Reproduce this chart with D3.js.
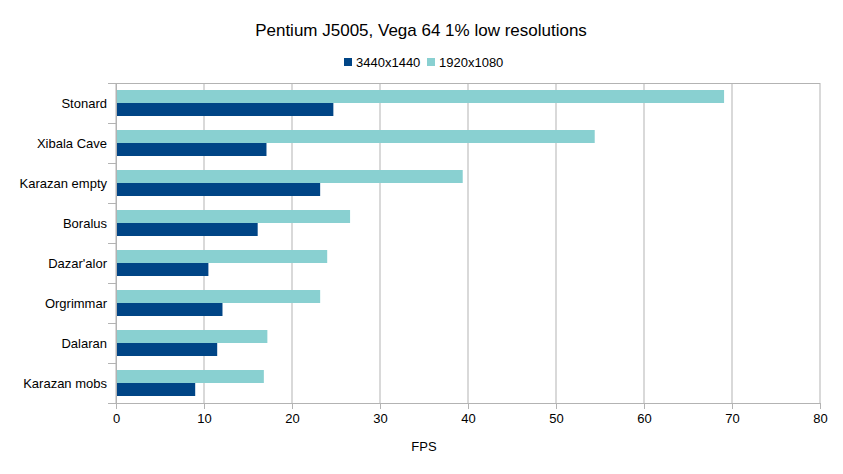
<!DOCTYPE html>
<html lang="en">
<head>
    <meta charset="UTF-8">
    <title>Pentium J5005, Vega 64 1% low resolutions</title>
    <script src="https://cdnjs.cloudflare.com/ajax/libs/d3/7.8.5/d3.min.js"></script>
    <style>
        body {
            margin: 0;
            background: white;
            font-family: 'Liberation Sans', Arial, sans-serif;
        }
        .axis text {
            font-family: 'Liberation Sans', Arial, sans-serif;
            font-size: 13px;
            fill: #000;
        }
        .axis path, .axis line {
            stroke: #b3b3b3;
        }
    </style>
</head>
<body>
    <div id="chart"></div>

    <script>
        // Data
        const categories = ["Stonard", "Xibala Cave", "Karazan empty", "Boralus", "Dazar'alor", "Orgrimmar", "Dalaran", "Karazan mobs"];
        const seriesNames = ["1920x1080", "3440x1440"];
        const fps1080 = [69.1, 54.4, 39.4, 26.6, 24.0, 23.2, 17.2, 16.8];
        const fps1440 = [24.7, 17.1, 23.2, 16.1, 10.5, 12.1, 11.5, 9.0];
        const xTicks = [0, 10, 20, 30, 40, 50, 60, 70, 80];

        const colors = { "1920x1080": "#89d0d1", "3440x1440": "#004586" };
        const legendOrder = ["3440x1440", "1920x1080"];

        const W = 843, H = 474;
        const margin = { top: 83, right: 23, bottom: 71, left: 116 };
        const width = W - margin.left - margin.right;
        const height = H - margin.top - margin.bottom;

        const svg = d3.select("#chart")
            .append("svg")
            .attr("width", W)
            .attr("height", H);

        const g = svg.append("g")
            .attr("transform", `translate(${margin.left},${margin.top})`);

        const x = d3.scaleLinear().domain([0, 80]).range([0, width]);
        const y = d3.scaleBand().domain(categories).range([0, height]).paddingInner(0.35).paddingOuter(0.175);
        const ySub = d3.scaleBand().domain(seriesNames).range([0, y.bandwidth()]);

        // vertical gridlines
        g.selectAll(".grid")
            .data(xTicks)
            .enter()
            .append("line")
            .attr("class", "grid")
            .attr("x1", d => x(d))
            .attr("x2", d => x(d))
            .attr("y1", 0)
            .attr("y2", height)
            .attr("stroke", "#b3b3b3")
            .attr("stroke-width", 1);

        // top border line
        g.append("line")
            .attr("x1", -8).attr("x2", width)
            .attr("y1", 0.5).attr("y2", 0.5)
            .attr("stroke", "#b3b3b3");

        // bars
        const rows = categories.map((c, i) => ({ cat: c, values: [
            { name: "1920x1080", v: fps1080[i] },
            { name: "3440x1440", v: fps1440[i] }
        ]}));

        const groups = g.selectAll(".row")
            .data(rows)
            .enter()
            .append("g")
            .attr("transform", d => `translate(0,${y(d.cat)})`);

        groups.selectAll("rect")
            .data(d => d.values)
            .enter()
            .append("rect")
            .attr("x", x(0))
            .attr("y", d => ySub(d.name))
            .attr("width", d => x(d.v) - x(0))
            .attr("height", ySub.bandwidth())
            .attr("fill", d => colors[d.name]);

        // y axis with ticks at band boundaries
        const yAxis = g.append("g").attr("class", "axis");
        yAxis.append("line")
            .attr("x1", 0.5).attr("x2", 0.5)
            .attr("y1", 0).attr("y2", height)
            .attr("stroke", "#b3b3b3");
        const step = y.step();
        yAxis.selectAll(".ytick")
            .data(d3.range(categories.length + 1))
            .enter()
            .append("line")
            .attr("x1", -8).attr("x2", 0)
            .attr("y1", i => i * step + 0.5)
            .attr("y2", i => i * step + 0.5)
            .attr("stroke", "#b3b3b3");
        yAxis.selectAll(".ylabel")
            .data(categories)
            .enter()
            .append("text")
            .attr("x", -9)
            .attr("y", d => y(d) + y.bandwidth() / 2)
            .attr("dy", "0.35em")
            .attr("text-anchor", "end")
            .text(d => d);

        // x axis
        const xAxis = g.append("g")
            .attr("class", "axis")
            .attr("transform", `translate(0,${height})`)
            .call(d3.axisBottom(x).tickValues(xTicks).tickSize(6).tickPadding(5).tickSizeOuter(0));
        xAxis.select(".domain").attr("d", `M-8,0.5H${width}`);

        // x axis title
        svg.append("text")
            .attr("x", 424)
            .attr("y", 451)
            .attr("text-anchor", "middle")
            .style("font-size", "13px")
            .text("FPS");

        // title
        svg.append("text")
            .attr("x", 421)
            .attr("y", 36)
            .attr("text-anchor", "middle")
            .style("font-size", "17px")
            .text("Pentium J5005, Vega 64 1% low resolutions");

        // legend
        const legend = svg.append("g").attr("transform", "translate(344,58)");
        const legendX = [0, 83];
        legendOrder.forEach((name, i) => {
            legend.append("rect")
                .attr("x", legendX[i])
                .attr("y", 0)
                .attr("width", 8)
                .attr("height", 8)
                .attr("fill", colors[name]);
            legend.append("text")
                .attr("x", legendX[i] + 12)
                .attr("y", 9)
                .style("font-size", "13px")
                .text(name);
        });
    </script>
</body>
</html>
